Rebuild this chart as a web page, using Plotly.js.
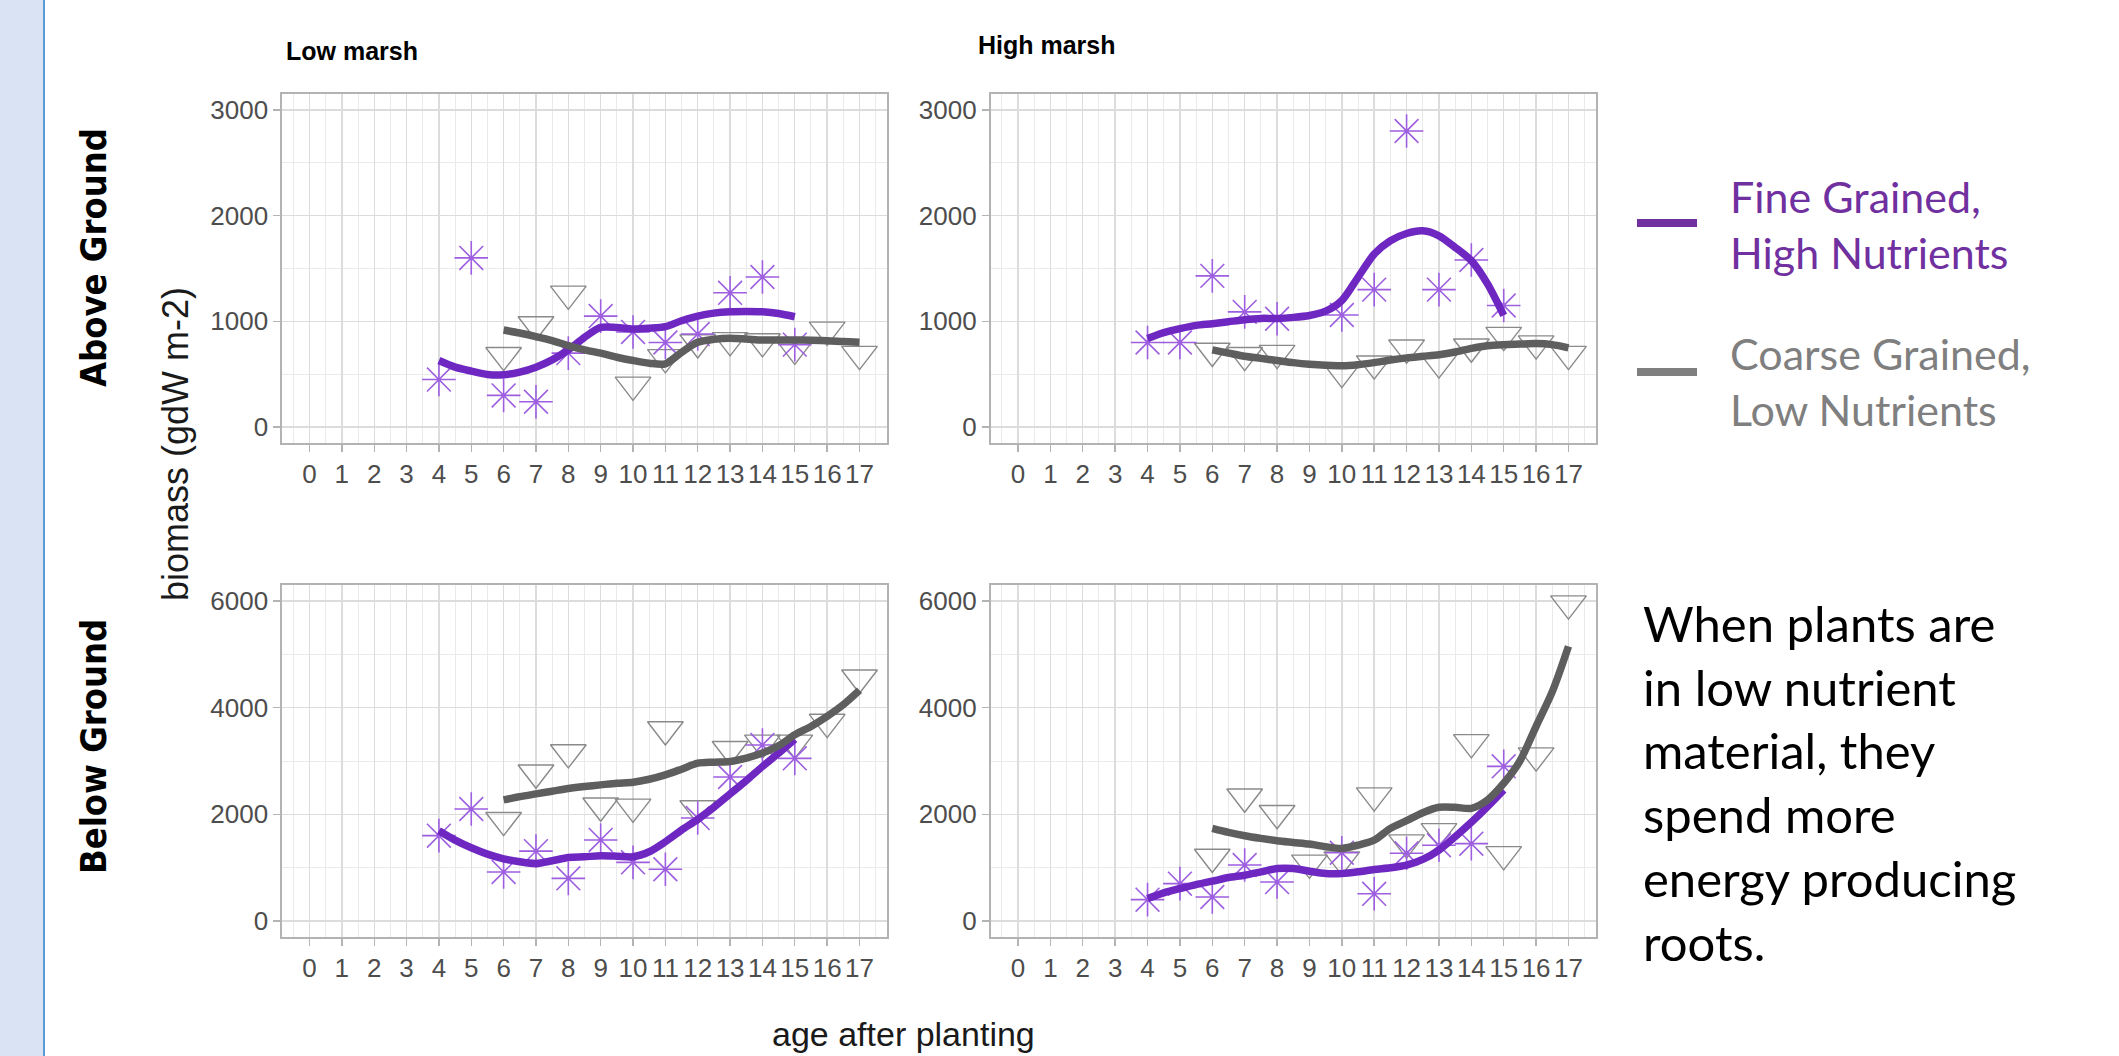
<!DOCTYPE html>
<html>
<head>
<meta charset="utf-8">
<script src="https://cdn.plot.ly/plotly-3.0.1.min.js"></script>
<style>
  html, body { margin: 0; padding: 0; background: #ffffff; }
  #chart { width: 2119px; height: 1056px; }
</style>
</head>
<body>
<div id="chart"></div>
<script>
// ---------------- DATA ----------------
const ageTicks = [0,1,2,3,4,5,6,7,8,9,10,11,12,13,14,15,16,17];

// smoothing curve x positions
const fitAgeFine   = [4,4.5,5,5.5,6,6.5,7,7.5,8,8.5,9,9.5,10,10.5,11,11.5,12,12.5,13,13.5,14,14.5,15];
const fitAgeCoarse = [6,6.5,7,7.5,8,8.5,9,9.5,10,10.5,11,11.5,12,12.5,13,13.5,14,14.5,15,15.5,16,16.5,17];

// Low marsh, above ground
const lowAGFineAge   = [4,5,6,7,8,9,10,11,12,13,14,15];
const lowAGFine      = [450,1600,300,240,700,1050,900,800,880,1270,1420,780];
const lowAGCoarseAge = [6,7,8,10,11,12,13,14,15,16,17];
const lowAGCoarse    = [680,970,1260,400,660,800,820,810,740,920,690];
const lowAGFineFit   = [630,567,530,498,495,520,567,636,730,849,943,943,928,935,950,1006,1050,1078,1091,1094,1091,1075,1044];
const lowAGCoarseFit = [918,890,856,818,771,731,699,661,630,605,599,708,802,830,840,833,824,824,824,822,818,809,802];

// High marsh, above ground
const highAGFineAge   = [4,5,6,7,8,10,11,12,13,14,15];
const highAGFine      = [800,800,1430,1090,1025,1060,1300,2800,1300,1580,1150];
const highAGCoarseAge = [6,7,8,10,11,12,13,14,15,16,17];
const highAGCoarse    = [720,680,700,520,600,750,610,760,870,790,690];
const highAGFineFit   = [837,893,931,962,978,997,1016,1028,1028,1038,1056,1097,1198,1417,1636,1762,1831,1856,1809,1699,1574,1354,1056];
const highAGCoarseFit = [730,700,670,650,630,610,595,585,580,590,610,635,655,670,685,710,745,770,780,785,790,780,750];

// Low marsh, below ground
const lowBGFineAge   = [4,5,6,7,8,9,10,11,12,13,14,15];
const lowBGFine      = [1600,2100,920,1310,800,1520,1100,970,1930,2700,3300,3050];
const lowBGCoarseAge = [6,7,8,9,10,11,12,13,14,15,16,17];
const lowBGCoarse    = [1890,2780,3160,2160,2140,3590,2110,3220,3340,3340,3730,4560];
const lowBGFineFit   = [1693,1517,1373,1254,1166,1110,1078,1129,1191,1204,1223,1216,1204,1298,1486,1705,1906,2132,2383,2633,2897,3148,3411];
const lowBGCoarseFit = [2270,2332,2383,2433,2483,2521,2552,2583,2602,2658,2740,2847,2959,2978,2991,3053,3148,3285,3492,3649,3837,4057,4326];

// High marsh, below ground
const highBGFineAge   = [4,5,6,7,8,10,11,12,13,14,15];
const highBGFine      = [400,700,450,1050,730,1280,510,1270,1420,1450,2900];
const highBGCoarseAge = [6,7,8,9,10,11,12,13,14,15,16,17];
const highBGCoarse    = [1200,2330,2020,1090,1150,2350,1470,1680,3350,1250,3100,5950];
const highBGFineFit   = [420,527,608,683,746,815,859,922,984,984,934,890,890,922,966,997,1047,1154,1329,1580,1850,2144,2458];
const highBGCoarseFit = [1737,1662,1599,1549,1505,1473,1442,1392,1361,1423,1517,1737,1881,2031,2132,2132,2113,2270,2583,3000,3650,4300,5150];

const panelTitles = ["Low marsh", "High marsh"];
const rowLabels = ["Above Ground", "Below Ground"];
const yTitle = "biomass (gdW m-2)";
const xTitle = "age after planting";
const legendLabels = ["Fine Grained,<br>High Nutrients", "Coarse Grained,<br>Low Nutrients"];
const noteText = "When plants are<br>in low nutrient<br>material, they<br>spend more<br>energy producing<br>roots.";

// ---------------- STYLE ----------------
const W = 2119, H = 1056;
const px = v => v / W;
const py = v => 1 - v / H;

const PURPLE_LINE = '#6f27c2';
const PURPLE_PT = '#9d5fe0';
const GRAY_LINE = '#5e5e5e';
const GRAY_PT = '#8a8a8a';

function pts(x, y, xa, ya, fine) {
  return {
    type: 'scatter', mode: 'markers', x: x, y: y, xaxis: xa, yaxis: ya,
    showlegend: false, hoverinfo: 'skip',
    marker: fine
      ? { symbol: 'asterisk-open', size: 28, color: PURPLE_PT, line: { color: PURPLE_PT, width: 1.6 } }
      : { symbol: 'triangle-down-open', size: 31, color: GRAY_PT, line: { color: GRAY_PT, width: 1.4 } }
  };
}
function fit(x, y, xa, ya, fine) {
  return {
    type: 'scatter', mode: 'lines', x: x, y: y, xaxis: xa, yaxis: ya,
    showlegend: false, hoverinfo: 'skip',
    line: { color: fine ? PURPLE_LINE : GRAY_LINE, width: 7.5, shape: 'spline', smoothing: 0.8 }
  };
}

const data = [
  pts(lowAGCoarseAge, lowAGCoarse, 'x', 'y', false),
  pts(lowAGFineAge, lowAGFine, 'x', 'y', true),
  fit(fitAgeFine, lowAGFineFit, 'x', 'y', true),
  fit(fitAgeCoarse, lowAGCoarseFit, 'x', 'y', false),

  pts(highAGCoarseAge, highAGCoarse, 'x2', 'y2', false),
  pts(highAGFineAge, highAGFine, 'x2', 'y2', true),
  fit(fitAgeFine, highAGFineFit, 'x2', 'y2', true),
  fit(fitAgeCoarse, highAGCoarseFit, 'x2', 'y2', false),

  pts(lowBGCoarseAge, lowBGCoarse, 'x3', 'y3', false),
  pts(lowBGFineAge, lowBGFine, 'x3', 'y3', true),
  fit(fitAgeFine, lowBGFineFit, 'x3', 'y3', true),
  fit(fitAgeCoarse, lowBGCoarseFit, 'x3', 'y3', false),

  pts(highBGCoarseAge, highBGCoarse, 'x4', 'y4', false),
  pts(highBGFineAge, highBGFine, 'x4', 'y4', true),
  fit(fitAgeFine, highBGFineFit, 'x4', 'y4', true),
  fit(fitAgeCoarse, highBGCoarseFit, 'x4', 'y4', false)
];

const tickFont = { family: 'Liberation Sans, Arial, sans-serif', size: 26, color: '#4d4d4d' };

function xAxis(domain, anchor) {
  return {
    domain: domain, anchor: anchor, range: [-0.85, 17.85],
    tickmode: 'array', tickvals: ageTicks, ticktext: ageTicks.map(String),
    showgrid: true, gridcolor: '#dcdcdc', gridwidth: 1.4,
    minor: { dtick: 0.5, tick0: 0, showgrid: true, gridcolor: '#eaeaea', gridwidth: 1 },
    showline: true, mirror: true, linecolor: '#b3b3b3', linewidth: 1.6,
    ticks: 'outside', ticklen: 7, tickwidth: 1.4, tickcolor: '#b3b3b3',
    tickfont: tickFont, zeroline: false, fixedrange: true
  };
}
function yAxis(domain, anchor, range, dtick) {
  return {
    domain: domain, anchor: anchor, range: range,
    tick0: 0, dtick: dtick,
    showgrid: true, gridcolor: '#dcdcdc', gridwidth: 1.4,
    minor: { dtick: dtick / 2, tick0: 0, showgrid: true, gridcolor: '#eaeaea', gridwidth: 1 },
    showline: true, mirror: true, linecolor: '#b3b3b3', linewidth: 1.6,
    ticks: 'outside', ticklen: 7, tickwidth: 1.4, tickcolor: '#b3b3b3',
    tickfont: tickFont, zeroline: false, fixedrange: true
  };
}

const colL = [px(282), px(887)];
const colR = [px(990.5), px(1596)];
const rowT = [py(443), py(94)];
const rowB = [py(937), py(585)];

const layout = {
  width: W, height: H,
  margin: { l: 0, r: 0, t: 0, b: 0, pad: 0 },
  paper_bgcolor: '#ffffff', plot_bgcolor: '#ffffff',
  showlegend: false,
  xaxis:  xAxis(colL, 'y'),
  yaxis:  yAxis(rowT, 'x', [-150, 3150], 1000),
  xaxis2: xAxis(colR, 'y2'),
  yaxis2: yAxis(rowT, 'x2', [-150, 3150], 1000),
  xaxis3: xAxis(colL, 'y3'),
  yaxis3: yAxis(rowB, 'x3', [-300, 6300], 2000),
  xaxis4: xAxis(colR, 'y4'),
  yaxis4: yAxis(rowB, 'x4', [-300, 6300], 2000),
  shapes: [
    { type: 'rect', xref: 'paper', yref: 'paper', x0: 0, x1: px(44), y0: 0, y1: 1,
      fillcolor: '#dae3f3', line: { width: 0 }, layer: 'below' },
    { type: 'line', xref: 'paper', yref: 'paper', x0: px(44), x1: px(44), y0: 0, y1: 1,
      line: { color: '#5b9bd5', width: 2 } },
    { type: 'line', xref: 'paper', yref: 'paper', x0: px(1637), x1: px(1697), y0: py(223), y1: py(223),
      line: { color: '#7030a0', width: 8 } },
    { type: 'line', xref: 'paper', yref: 'paper', x0: px(1637), x1: px(1697), y0: py(372), y1: py(372),
      line: { color: '#7f7f7f', width: 8 } }
  ],
  annotations: [
    { text: '<b>' + panelTitles[0] + '</b>', xref: 'paper', yref: 'paper', x: px(284), y: py(51),
      xanchor: 'left', yanchor: 'middle', showarrow: false,
      font: { family: 'Liberation Sans, Arial, sans-serif', size: 25, color: '#000000' } },
    { text: '<b>' + panelTitles[1] + '</b>', xref: 'paper', yref: 'paper', x: px(976), y: py(45),
      xanchor: 'left', yanchor: 'middle', showarrow: false,
      font: { family: 'Liberation Sans, Arial, sans-serif', size: 25, color: '#000000' } },
    { text: '<b>' + rowLabels[0] + '</b>', xref: 'paper', yref: 'paper', x: px(93), y: py(258),
      xanchor: 'center', yanchor: 'middle', showarrow: false, textangle: -90,
      font: { family: 'Liberation Sans Narrow, DejaVu Sans Condensed, Liberation Sans, Arial, sans-serif', size: 36, color: '#000000' } },
    { text: '<b>' + rowLabels[1] + '</b>', xref: 'paper', yref: 'paper', x: px(93), y: py(747),
      xanchor: 'center', yanchor: 'middle', showarrow: false, textangle: -90,
      font: { family: 'Liberation Sans Narrow, DejaVu Sans Condensed, Liberation Sans, Arial, sans-serif', size: 36, color: '#000000' } },
    { text: yTitle, xref: 'paper', yref: 'paper', x: px(176), y: py(444),
      xanchor: 'center', yanchor: 'middle', showarrow: false, textangle: -90,
      font: { family: 'Liberation Sans, Arial, sans-serif', size: 36, color: '#1a1a1a' } },
    { text: xTitle, xref: 'paper', yref: 'paper', x: px(903), y: py(1034),
      xanchor: 'center', yanchor: 'middle', showarrow: false,
      font: { family: 'Liberation Sans, Arial, sans-serif', size: 34, color: '#1a1a1a' } },
    { text: legendLabels[0], xref: 'paper', yref: 'paper', x: px(1728), y: py(224),
      xanchor: 'left', yanchor: 'middle', align: 'left', showarrow: false,
      font: { family: 'Lato, Open Sans, sans-serif', size: 43, color: '#7030a0' } },
    { text: legendLabels[1], xref: 'paper', yref: 'paper', x: px(1728), y: py(381),
      xanchor: 'left', yanchor: 'middle', align: 'left', showarrow: false,
      font: { family: 'Lato, Open Sans, sans-serif', size: 43, color: '#7f7f7f' } },
    { text: noteText, xref: 'paper', yref: 'paper', x: px(1641), y: py(782),
      xanchor: 'left', yanchor: 'middle', align: 'left', showarrow: false,
      font: { family: 'Lato, Open Sans, sans-serif', size: 49, color: '#000000' } }
  ]
};

Plotly.newPlot('chart', data, layout, { staticPlot: true, displayModeBar: false });
</script>
</body>
</html>
